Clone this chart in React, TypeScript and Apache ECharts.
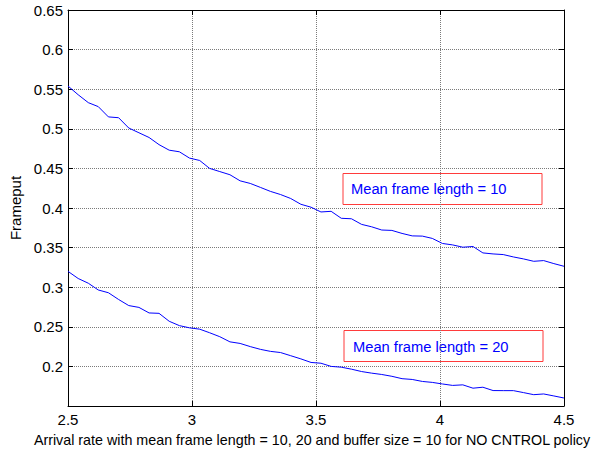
import React, { useEffect, useRef } from "react";
import * as echarts from "echarts";

const xValues = [
  2.5, 2.541, 2.582, 2.622, 2.663, 2.704, 2.745, 2.786, 2.827, 2.867,
  2.908, 2.949, 2.99, 3.031, 3.071, 3.112, 3.153, 3.194, 3.235, 3.276,
  3.316, 3.357, 3.398, 3.439, 3.48, 3.52, 3.561, 3.602, 3.643, 3.684,
  3.724, 3.765, 3.806, 3.847, 3.888, 3.929, 3.969, 4.01, 4.051, 4.092,
  4.133, 4.173, 4.214, 4.255, 4.296, 4.337, 4.378, 4.418, 4.459, 4.5,
];

const frameLen10 = [
  0.554, 0.543, 0.533, 0.528, 0.515, 0.514, 0.501, 0.495, 0.489, 0.48,
  0.473, 0.471, 0.463, 0.46, 0.45, 0.446, 0.442, 0.4343, 0.431, 0.426,
  0.421, 0.417, 0.412, 0.4047, 0.401, 0.395, 0.3958, 0.387, 0.3864, 0.3793,
  0.3763, 0.3722, 0.3717, 0.3679, 0.3648, 0.3645, 0.3616, 0.3552, 0.3534, 0.3505,
  0.3514, 0.3433, 0.342, 0.3412, 0.3382, 0.3357, 0.3327, 0.3336, 0.3298, 0.3264,
];

const frameLen20 = [
  0.32, 0.311, 0.305, 0.2965, 0.293, 0.2845, 0.2768, 0.2745, 0.2675, 0.267,
  0.257, 0.2515, 0.2487, 0.247, 0.2425, 0.2375, 0.231, 0.229, 0.225, 0.2215,
  0.219, 0.2175, 0.2135, 0.2095, 0.205, 0.204, 0.2, 0.199, 0.1965, 0.1935,
  0.1915, 0.1898, 0.1875, 0.1845, 0.1835, 0.181, 0.1798, 0.1778, 0.176, 0.1767,
  0.1725, 0.1737, 0.1695, 0.1694, 0.1694, 0.1669, 0.1643, 0.1652, 0.1627, 0.1601,
];

const annotations = ["Mean frame length = 10", "Mean frame length = 20"];
const xTitle =
  "Arrival rate with mean frame length = 10, 20 and buffer size = 10 for NO CNTROL policy";
const yTitle = "Frameput";

const FONT = "'Liberation Sans', Arial, sans-serif";

export default function App() {
  const ref = useRef<HTMLDivElement>(null);

  useEffect(() => {
    if (!ref.current) return;
    const chart = echarts.init(ref.current, undefined, { renderer: "svg" });

    const axisLine = { show: true, lineStyle: { color: "#000", width: 1 } };
    const axisTick = { show: true, inside: true, length: 5, lineStyle: { color: "#000" } };
    const splitLine = { show: true, lineStyle: { color: "#7a7a7a", type: "dotted" as const, width: 1 } };

    const fmt = (v: number) => String(+v.toFixed(2));

    chart.setOption({
      animation: false,
      backgroundColor: "#fff",
      grid: {
        left: 68,
        right: 34,
        top: 10,
        bottom: 46,
        containLabel: false,
        outerBoundsMode: "none",
      },
      xAxis: [
        {
          type: "value",
          min: 2.5,
          max: 4.5,
          interval: 0.5,
          axisLine,
          axisTick,
          splitLine,
          axisLabel: { color: "#000", fontSize: 15, fontFamily: FONT, margin: 6, formatter: fmt },
        },
        {
          type: "value",
          position: "top",
          min: 2.5,
          max: 4.5,
          interval: 0.5,
          axisLine,
          axisTick,
          splitLine: { show: false },
          axisLabel: { show: false },
        },
      ],
      yAxis: [
        {
          type: "value",
          min: 0.15,
          max: 0.65,
          interval: 0.05,
          axisLine,
          axisTick,
          splitLine,
          axisLabel: {
            color: "#000",
            fontSize: 15,
            fontFamily: FONT,
            margin: 5,
            formatter: (v: number) => (v < 0.16 ? "" : fmt(v)),
          },
          name: yTitle,
          nameLocation: "middle",
          nameGap: 45,
          nameTextStyle: { color: "#000", fontSize: 15, fontFamily: FONT },
        },
        {
          type: "value",
          position: "right",
          min: 0.15,
          max: 0.65,
          interval: 0.05,
          axisLine,
          axisTick,
          splitLine: { show: false },
          axisLabel: { show: false },
        },
      ],
      series: [
        {
          type: "line",
          data: xValues.map((x, i) => [x, frameLen10[i]]),
          symbol: "none",
          lineStyle: { color: "#0000ff", width: 1 },
        },
        {
          type: "line",
          data: xValues.map((x, i) => [x, frameLen20[i]]),
          symbol: "none",
          lineStyle: { color: "#0000ff", width: 1 },
        },
      ],
      graphic: [
        {
          type: "text",
          x: 312,
          y: 440,
          style: {
            text: xTitle,
            fill: "#000",
            fontSize: 14.3,
            fontFamily: FONT,
            align: "center",
            verticalAlign: "middle",
          },
        },
        {
          type: "rect",
          shape: { x: 343, y: 173.5, width: 199, height: 31 },
          style: { fill: "none", stroke: "#ff3b3b", lineWidth: 1 },
        },
        {
          type: "text",
          x: 351,
          y: 189,
          style: {
            text: annotations[0],
            fill: "#0000ff",
            fontSize: 14.7,
            fontFamily: FONT,
            verticalAlign: "middle",
          },
        },
        {
          type: "rect",
          shape: { x: 344, y: 330.5, width: 199, height: 31 },
          style: { fill: "none", stroke: "#ff3b3b", lineWidth: 1 },
        },
        {
          type: "text",
          x: 353,
          y: 346.5,
          style: {
            text: annotations[1],
            fill: "#0000ff",
            fontSize: 14.7,
            fontFamily: FONT,
            verticalAlign: "middle",
          },
        },
      ],
    });

    return () => chart.dispose();
  }, []);

  return (
    <div
      ref={ref}
      style={{ position: "absolute", left: 0, top: 0, width: 598, height: 452 }}
    />
  );
}
